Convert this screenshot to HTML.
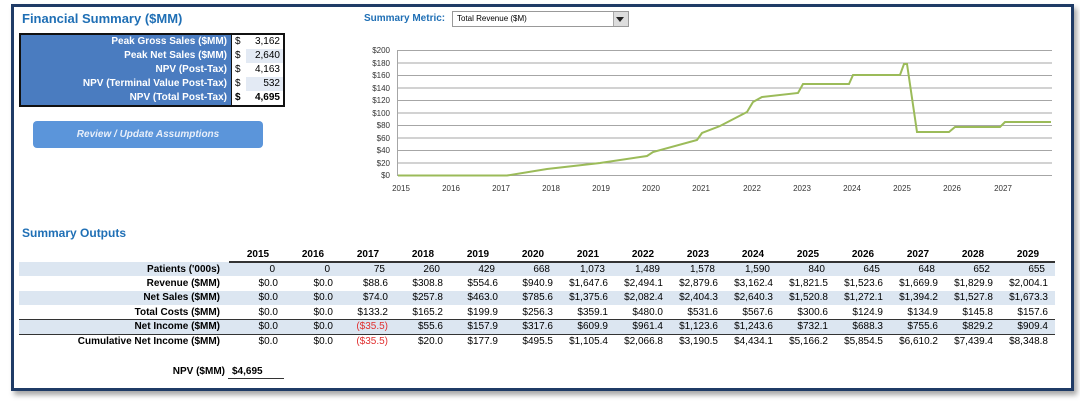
<!DOCTYPE html>
<html><head><meta charset="utf-8">
<style>
*{margin:0;padding:0;box-sizing:border-box}
body{width:1080px;height:402px;background:#fff;font-family:"Liberation Sans",sans-serif;position:relative;overflow:hidden}
.frame{position:absolute;left:11px;top:4px;width:1063px;height:387px;border:3px solid #1f3b66;box-shadow:3px 4px 5px rgba(0,0,0,0.35)}
.a{position:absolute;white-space:nowrap}
.title{color:#1f6fb5;font-weight:bold;font-size:13px}
.fs td{font-size:10px;height:14.6px;line-height:14px;font-weight:bold}
.r{position:absolute;font-size:10px;white-space:nowrap}
.lab{font-weight:bold;text-align:right;width:200px;left:20px}
.v{text-align:right;width:55px}
.h{font-weight:bold;text-align:center;width:40px}
</style></head><body>
<div class="frame"></div>
<div class="a title" style="left:22px;top:11px">Financial Summary ($MM)</div>
<!-- financial summary table -->
<div class="a" style="left:19px;top:33px;width:266px;height:74px;border:2px solid #111;background:#fff"></div>
<div class="a" style="left:21px;top:35px;width:210px;height:70px;background:#4a7cc0"></div>
<div class="a" style="left:231px;top:35px;width:1px;height:70px;background:#111"></div>
<div class="a" style="left:246px;top:49px;width:37px;height:14px;background:#e3eaf4"></div>
<div class="a" style="left:246px;top:77px;width:37px;height:14px;background:#e3eaf4"></div>
<div class="a" style="left:21px;top:35px;width:206px;font-size:10px;font-weight:bold;color:#fff;text-align:right;line-height:14px">Peak Gross Sales ($MM)<br>Peak Net Sales ($MM)<br>NPV (Post-Tax)<br>NPV (Terminal Value Post-Tax)<br>NPV (Total Post-Tax)</div>
<div class="a" style="left:235px;top:35px;font-size:10px;line-height:14px">$<br>$<br>$<br>$<br><b>$</b></div>
<div class="a" style="left:240px;top:35px;width:40px;font-size:10px;line-height:14px;text-align:right">3,162<br>2,640<br>4,163<br>532<br><b>4,695</b></div>
<div class="a" style="left:33px;top:121px;width:230px;height:27px;background:#5b95da;border-radius:4px;color:#e8effa;font-size:10px;font-weight:bold;font-style:italic;text-align:center;line-height:27px">Review / Update Assumptions</div>
<!-- summary metric -->
<div class="a" style="left:364px;top:13px;color:#1f6fb5;font-weight:bold;font-size:10px">Summary Metric:</div>
<div class="a" style="left:452px;top:11px;width:177px;height:16px;border:1px solid #999;background:#fff;font-size:8px;line-height:14px;padding-left:4px">Total Revenue ($M)</div>
<div class="a" style="left:613px;top:12px;width:15px;height:14px;background:#ddd;border-left:1px solid #aaa"></div>
<div class="a" style="left:616px;top:17px;width:0;height:0;border-left:4px solid transparent;border-right:4px solid transparent;border-top:5px solid #222"></div>
<!-- chart -->
<svg class="a" style="left:0;top:0" width="1080" height="200">
<g stroke="#a6a6a6" stroke-width="1">
<line x1="398" y1="50.5" x2="1052" y2="50.5"/><line x1="398" y1="63" x2="1052" y2="63"/><line x1="398" y1="75.5" x2="1052" y2="75.5"/><line x1="398" y1="88" x2="1052" y2="88"/><line x1="398" y1="100.5" x2="1052" y2="100.5"/><line x1="398" y1="113" x2="1052" y2="113"/><line x1="398" y1="125.5" x2="1052" y2="125.5"/><line x1="398" y1="138" x2="1052" y2="138"/><line x1="398" y1="150.5" x2="1052" y2="150.5"/><line x1="398" y1="163" x2="1052" y2="163"/><line x1="398" y1="175.5" x2="1052" y2="175.5"/>
<line x1="397.5" y1="50" x2="397.5" y2="176"/>
</g>
<g font-size="8" fill="#333" text-anchor="end" font-family="Liberation Sans">
<text x="390" y="53">$200</text><text x="390" y="66">$180</text><text x="390" y="78">$160</text><text x="390" y="91">$140</text><text x="390" y="103">$120</text><text x="390" y="116">$100</text><text x="390" y="128">$80</text><text x="390" y="141">$60</text><text x="390" y="153">$40</text><text x="390" y="166">$20</text><text x="390" y="178">$0</text>
</g>
<g font-size="8" fill="#333" text-anchor="middle" font-family="Liberation Sans">
<text x="401" y="191">2015</text><text x="451" y="191">2016</text><text x="501" y="191">2017</text><text x="551" y="191">2018</text><text x="601" y="191">2019</text><text x="651" y="191">2020</text><text x="701" y="191">2021</text><text x="752" y="191">2022</text><text x="802" y="191">2023</text><text x="852" y="191">2024</text><text x="902" y="191">2025</text><text x="952" y="191">2026</text><text x="1003" y="191">2027</text>
</g>
<polyline fill="none" stroke="#9bbb59" stroke-width="2" points="398,175.5 507,175.5 547,169 600,163 647,156 653,152 697,140 702,133 720,126 747,112 753,102 762,97 798,93 803,84 849,84 853,75 900,75 904,64 907,64 917,132 949,132 955,127 1000,127 1005,122 1051,122"/>
</svg>
<!-- summary outputs -->
<div class="a title" style="left:22px;top:226px;font-size:12px">Summary Outputs</div>
<div class="a" style="left:19px;top:262px;width:1036px;height:14px;background:#dce6f1"></div>
<div class="a" style="left:19px;top:291px;width:1036px;height:14px;background:#dce6f1"></div>
<div class="a" style="left:19px;top:320px;width:1036px;height:14px;background:#dce6f1"></div>
<div class="a" style="left:229px;top:261px;width:826px;height:2px;background:#333"></div>
<div class="a" style="left:19px;top:319px;width:1036px;height:1px;background:#333"></div>
<div class="a" style="left:19px;top:334px;width:1036px;height:1px;background:#333"></div>
<div class="r lab" style="top:264px">Patients ('000s)</div>
<div class="r lab" style="top:278px">Revenue ($MM)</div>
<div class="r lab" style="top:292px">Net Sales ($MM)</div>
<div class="r lab" style="top:307px">Total Costs ($MM)</div>
<div class="r lab" style="top:321px">Net Income ($MM)</div>
<div class="r lab" style="top:336px">Cumulative Net Income ($MM)</div>
<div id="cols"></div>
<div class="r" style="left:120px;top:366px;width:105px;text-align:right;font-weight:bold">NPV ($MM)</div>
<div class="r" style="left:232px;top:366px;font-weight:bold">$4,695</div>
<div class="a" style="left:228px;top:378px;width:56px;height:1px;background:#333"></div>
<script>
var yrs=[2015,2016,2017,2018,2019,2020,2021,2022,2023,2024,2025,2026,2027,2028,2029];
var d=[
["0","0","75","260","429","668","1,073","1,489","1,578","1,590","840","645","648","652","655"],
["$0.0","$0.0","$88.6","$308.8","$554.6","$940.9","$1,647.6","$2,494.1","$2,879.6","$3,162.4","$1,821.5","$1,523.6","$1,669.9","$1,829.9","$2,004.1"],
["$0.0","$0.0","$74.0","$257.8","$463.0","$785.6","$1,375.6","$2,082.4","$2,404.3","$2,640.3","$1,520.8","$1,272.1","$1,394.2","$1,527.8","$1,673.3"],
["$0.0","$0.0","$133.2","$165.2","$199.9","$256.3","$359.1","$480.0","$531.6","$567.6","$300.6","$124.9","$134.9","$145.8","$157.6"],
["$0.0","$0.0","($35.5)","$55.6","$157.9","$317.6","$609.9","$961.4","$1,123.6","$1,243.6","$732.1","$688.3","$755.6","$829.2","$909.4"],
["$0.0","$0.0","($35.5)","$20.0","$177.9","$495.5","$1,105.4","$2,066.8","$3,190.5","$4,434.1","$5,166.2","$5,854.5","$6,610.2","$7,439.4","$8,348.8"]];
var tops=[264,278,292,307,321,336],h="";
for(var i=0;i<15;i++){var R=278+55*i;
h+='<div class="r h" style="left:'+(R-40)+'px;top:249px">'+yrs[i]+'</div>';
for(var j=0;j<6;j++){var t=d[j][i];var red=t.charAt(0)=="(";
h+='<div class="r v" style="left:'+(R-55-(j==0?3:0))+'px;top:'+tops[j]+'px'+(red?';color:#e03030':'')+'">'+t+'</div>';}}
document.getElementById("cols").innerHTML=h;
</script>
</body></html>
